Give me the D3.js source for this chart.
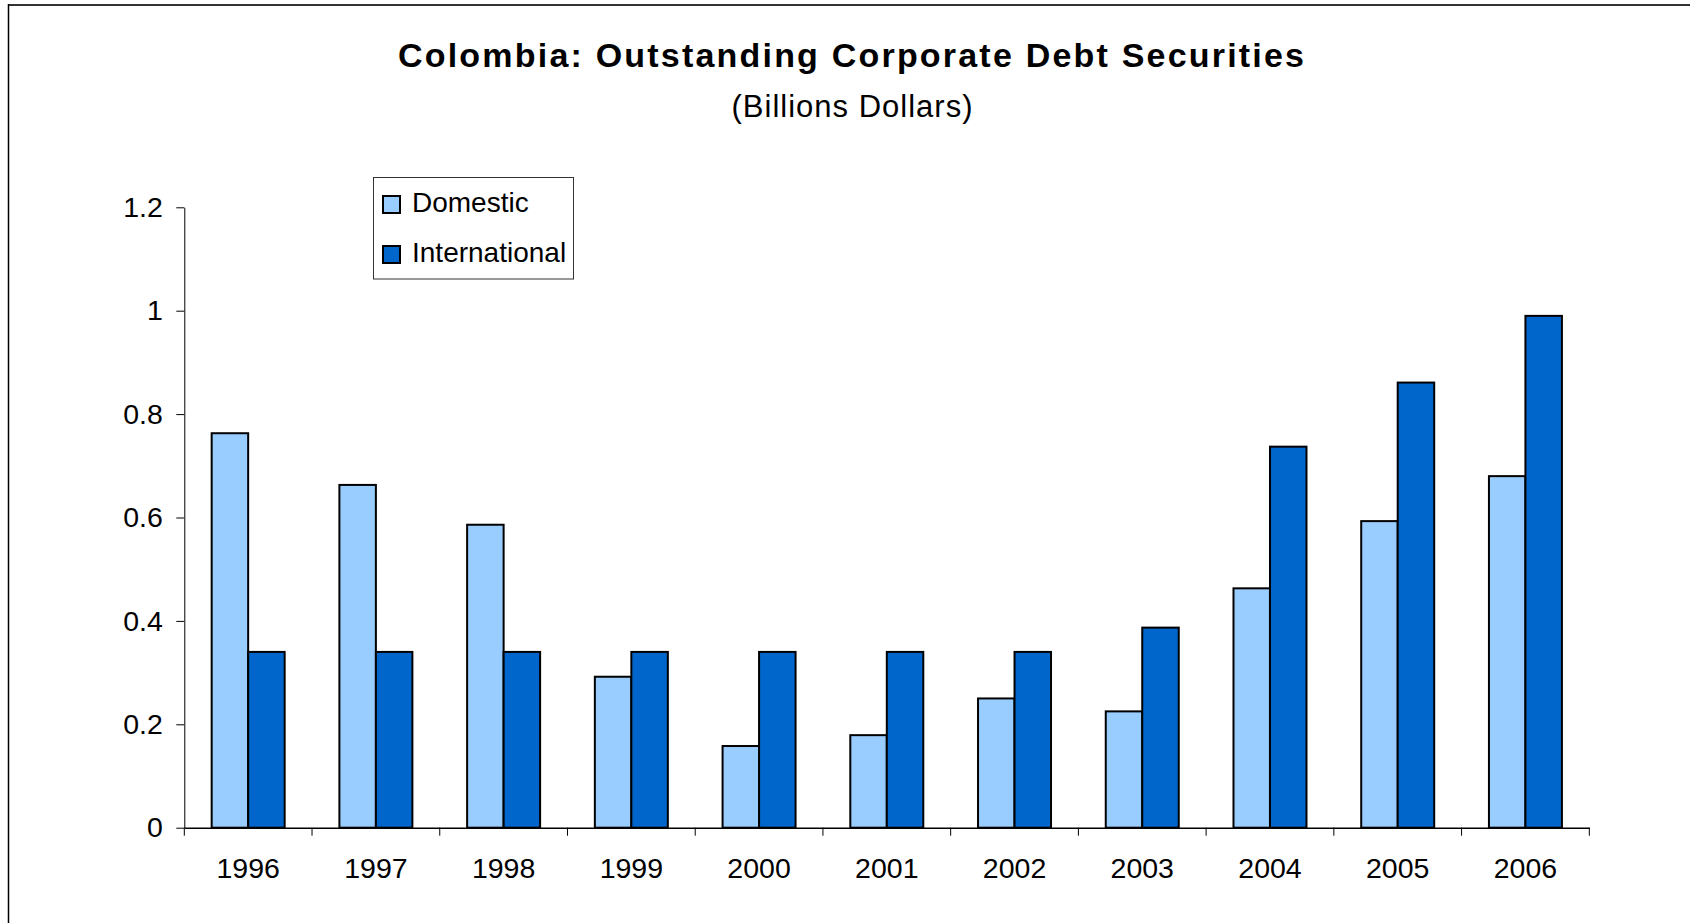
<!DOCTYPE html>
<html>
<head>
<meta charset="utf-8">
<script src="https://cdn.jsdelivr.net/npm/d3@7"></script>
<style>
  html, body { margin: 0; padding: 0; background: #fff; }
  svg { display: block; font-family: "Liberation Sans", Arial, sans-serif; }
</style>
</head>
<body>
<svg id="chart" width="1690" height="923"></svg>
<script>
// Outstanding corporate debt securities, billions of dollars
const years = ["1996", "1997", "1998", "1999", "2000", "2001", "2002", "2003", "2004", "2005", "2006"];
const seriesNames = ["Domestic", "International"];
const domestic = [0.763, 0.663, 0.586, 0.292, 0.158, 0.179, 0.25, 0.225, 0.463, 0.593, 0.68];
const international = [0.34, 0.34, 0.34, 0.34, 0.34, 0.34, 0.34, 0.387, 0.737, 0.861, 0.99];
const yTicks = [0, 0.2, 0.4, 0.6, 0.8, 1, 1.2];
const yTickLabels = ["0", "0.2", "0.4", "0.6", "0.8", "1", "1.2"];
const colors = ["#99CCFF", "#0066CC"];

const svg = d3.select("#chart");
const plot = { left: 184.3, right: 1589.3, top: 207.3, bottom: 827.7 };
const labelSize = 28.5;

// Frame around the chart area
svg.append("line").attr("x1", 8).attr("x2", 1690).attr("y1", 5).attr("y2", 5)
  .attr("stroke", "#333").attr("stroke-width", 2);
svg.append("line").attr("x1", 8.5).attr("x2", 8.5).attr("y1", 4).attr("y2", 923)
  .attr("stroke", "#000").attr("stroke-width", 1.5);

// Titles
svg.append("text").attr("x", 851).attr("y", 67).attr("text-anchor", "middle")
  .attr("font-size", 34).attr("font-weight", "bold")
  .attr("textLength", 906).attr("lengthAdjust", "spacing")
  .text("Colombia: Outstanding Corporate Debt Securities");
svg.append("text").attr("x", 852).attr("y", 117).attr("text-anchor", "middle")
  .attr("font-size", 31)
  .attr("textLength", 241).attr("lengthAdjust", "spacing")
  .text("(Billions Dollars)");

// Scales
const x0 = d3.scaleBand().domain(years).range([plot.left, plot.right]).paddingInner(0).paddingOuter(0);
const band = x0.bandwidth();
const gap = band * 1.5 / 3.5;
const x1 = d3.scaleBand().domain(seriesNames).range([gap / 2, band - gap / 2]).padding(0);
const y = d3.scaleLinear().domain([0, 1.2]).range([plot.bottom, plot.top]);

const rows = years.map((yr, i) => ({ year: yr, values: [domestic[i], international[i]] }));

// Bars
const groups = svg.append("g").selectAll("g").data(rows).join("g")
  .attr("transform", d => `translate(${x0(d.year)},0)`);
groups.selectAll("rect")
  .data(d => d.values.map((v, k) => ({ key: seriesNames[k], value: v, k })))
  .join("rect")
  .attr("x", d => x1(d.key))
  .attr("width", x1.bandwidth())
  .attr("y", d => y(d.value))
  .attr("height", d => y(0) - y(d.value))
  .attr("fill", d => colors[d.k])
  .attr("stroke", "#000")
  .attr("stroke-width", 2);

// Y axis
const yAxis = svg.append("g").attr("transform", `translate(${plot.left},0)`)
  .call(d3.axisLeft(y).tickValues(yTicks).tickFormat((d, i) => yTickLabels[i])
    .tickSize(8).tickSizeOuter(0).tickPadding(13.5));
yAxis.select(".domain").attr("stroke", "#000").attr("stroke-width", 1);
yAxis.selectAll(".tick line").attr("stroke", "#000");
yAxis.selectAll("text").attr("font-size", labelSize).attr("fill", "#000")
  .attr("font-family", "'Liberation Sans', Arial, sans-serif");

// X axis: labels at band centres, ticks at band boundaries
const xAxis = svg.append("g").attr("transform", `translate(0,${plot.bottom})`)
  .call(d3.axisBottom(x0).tickSize(0).tickSizeOuter(0));
xAxis.select(".domain").attr("stroke", "#000").attr("stroke-width", 1.5);
xAxis.selectAll("text").attr("y", 50).attr("dy", 0).attr("font-size", labelSize).attr("fill", "#000")
  .attr("font-family", "'Liberation Sans', Arial, sans-serif");
const boundaries = years.map(d => x0(d)).concat([x0(years[years.length - 1]) + band]);
xAxis.selectAll(".boundary").data(boundaries).join("line")
  .attr("class", "boundary")
  .attr("x1", d => d).attr("x2", d => d).attr("y1", 0).attr("y2", 8)
  .attr("stroke", "#000").attr("stroke-width", 1);

// Legend
const legend = svg.append("g");
legend.append("rect").attr("x", 373.5).attr("y", 177.5).attr("width", 200).attr("height", 101.5)
  .attr("fill", "#fff").attr("stroke", "#333").attr("stroke-width", 1);
const items = legend.selectAll("g.item").data(seriesNames).join("g").attr("class", "item")
  .attr("transform", (d, i) => `translate(0,${i * 50})`);
items.append("rect").attr("x", 383).attr("y", 196).attr("width", 17).attr("height", 17)
  .attr("fill", (d, i) => colors[i]).attr("stroke", "#000").attr("stroke-width", 2);
items.append("text").attr("x", 412).attr("y", 211.5).attr("font-size", 28).attr("fill", "#000")
  .text(d => d);
</script>
</body>
</html>
